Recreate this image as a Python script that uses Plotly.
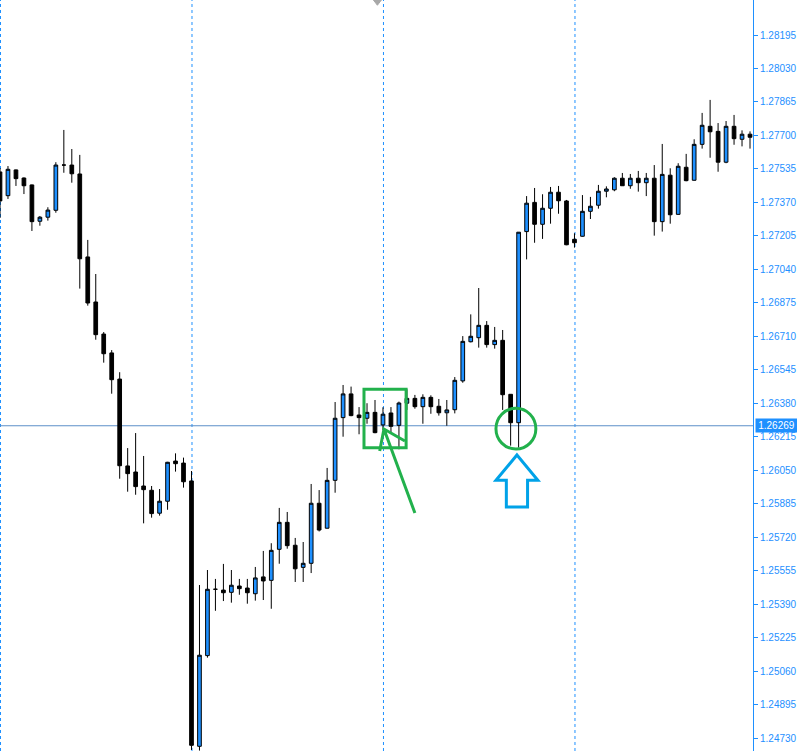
import plotly.graph_objects as go

# ---- data (H1 bars) ----
bar_index = list(range(95))
open_ = [1.27520, 1.27403, 1.27530, 1.27490, 1.27456, 1.27277, 1.27297, 1.27331, 1.27554, 1.27554,
         1.27510, 1.27101, 1.26879, 1.26721, 1.26628, 1.26499, 1.26071, 1.26041, 1.25972, 1.25951,
         1.25838, 1.25897, 1.26095, 1.26085, 1.25997, 1.24689, 1.25136, 1.25463, 1.25459, 1.25448,
         1.25479, 1.25469, 1.25441, 1.25524, 1.25507, 1.25660, 1.25793, 1.25680, 1.25571, 1.25591,
         1.25887, 1.25764, 1.26000, 1.26309, 1.26426, 1.26322, 1.26306, 1.26335, 1.26273, 1.26332,
         1.26271, 1.26380, 1.26404, 1.26363, 1.26409, 1.26365, 1.26333, 1.26348, 1.26490, 1.26683,
         1.26703, 1.26764, 1.26669, 1.26690, 1.26424, 1.26284, 1.27226, 1.27370, 1.27262, 1.27341,
         1.27420, 1.27377, 1.27188, 1.27203, 1.27326, 1.27356, 1.27425, 1.27432, 1.27489, 1.27452,
         1.27489, 1.27467, 1.27489, 1.27275, 1.27504, 1.27311, 1.27543, 1.27479, 1.27656, 1.27745,
         1.27720, 1.27568, 1.27745, 1.27681, 1.27706]
high = [1.27539, 1.27549, 1.27532, 1.27493, 1.27458, 1.27303, 1.27346, 1.27568, 1.27727, 1.27633,
        1.27604, 1.27185, 1.27017, 1.26731, 1.26642, 1.26533, 1.26159, 1.26233, 1.26120, 1.25972,
        1.25957, 1.26091, 1.26133, 1.26112, 1.26046, 1.25484, 1.25558, 1.25514, 1.25588, 1.25558,
        1.25514, 1.25514, 1.25573, 1.25652, 1.25690, 1.25864, 1.25844, 1.25716, 1.25696, 1.25982,
        1.25952, 1.26061, 1.26386, 1.26470, 1.26462, 1.26361, 1.26380, 1.26396, 1.26360, 1.26361,
        1.26388, 1.26449, 1.26421, 1.26424, 1.26419, 1.26401, 1.26396, 1.26509, 1.26711, 1.26818,
        1.26948, 1.26785, 1.26756, 1.26741, 1.26425, 1.27224, 1.27401, 1.27441, 1.27410, 1.27446,
        1.27451, 1.27382, 1.27218, 1.27406, 1.27397, 1.27456, 1.27449, 1.27494, 1.27515, 1.27510,
        1.27525, 1.27515, 1.27554, 1.27658, 1.27538, 1.27563, 1.27609, 1.27681, 1.27811, 1.27875,
        1.27761, 1.27771, 1.27801, 1.27725, 1.27720]
low = [1.27293, 1.27387, 1.27451, 1.27411, 1.27229, 1.27255, 1.27280, 1.27319, 1.27516, 1.27467,
       1.26945, 1.26861, 1.26693, 1.26580, 1.26427, 1.26008, 1.25944, 1.25929, 1.25788, 1.25816,
       1.25826, 1.25855, 1.26043, 1.25964, 1.24671, 1.24668, 1.25126, 1.25357, 1.25405, 1.25397,
       1.25436, 1.25392, 1.25407, 1.25410, 1.25367, 1.25589, 1.25663, 1.25499, 1.25499, 1.25543,
       1.25748, 1.25763, 1.25939, 1.26215, 1.26316, 1.26227, 1.26279, 1.26232, 1.26248, 1.26233,
       1.26153, 1.26347, 1.26353, 1.26279, 1.26328, 1.26319, 1.26269, 1.26330, 1.26481, 1.26680,
       1.26654, 1.26654, 1.26649, 1.26347, 1.26171, 1.26161, 1.27089, 1.27171, 1.27190, 1.27265,
       1.27314, 1.27159, 1.27147, 1.27201, 1.27288, 1.27339, 1.27395, 1.27425, 1.27451, 1.27437,
       1.27423, 1.27401, 1.27206, 1.27226, 1.27265, 1.27309, 1.27474, 1.27477, 1.27635, 1.27590,
       1.27521, 1.27563, 1.27654, 1.27646, 1.27635]
close = [1.27377, 1.27533, 1.27487, 1.27452, 1.27275, 1.27297, 1.27332, 1.27554, 1.27554, 1.27511,
         1.27092, 1.26874, 1.26718, 1.26624, 1.26496, 1.26072, 1.26033, 1.25969, 1.25954, 1.25836,
         1.25897, 1.26089, 1.26082, 1.25993, 1.24694, 1.25138, 1.25463, 1.25463, 1.25446, 1.25483,
         1.25466, 1.25446, 1.25519, 1.25504, 1.25655, 1.25793, 1.25678, 1.25564, 1.25591, 1.25887,
         1.25755, 1.26000, 1.26306, 1.26426, 1.26319, 1.26309, 1.26335, 1.26235, 1.26326, 1.26266,
         1.26381, 1.26404, 1.26363, 1.26409, 1.26363, 1.26333, 1.26347, 1.26493, 1.26685, 1.26710,
         1.26764, 1.26669, 1.26690, 1.26422, 1.26284, 1.27223, 1.27366, 1.27262, 1.27341, 1.27420,
         1.27378, 1.27161, 1.27171, 1.27326, 1.27351, 1.27425, 1.27436, 1.27489, 1.27452, 1.27489,
         1.27467, 1.27489, 1.27275, 1.27508, 1.27309, 1.27548, 1.27477, 1.27656, 1.27750, 1.27718,
         1.27568, 1.27745, 1.27684, 1.27706, 1.27691]

price_ticks = [1.24730, 1.24895, 1.25060, 1.25225, 1.25390, 1.25555, 1.25720, 1.25885,
               1.26050, 1.26215, 1.26380, 1.26545, 1.26710, 1.26875, 1.27040, 1.27205,
               1.27370, 1.27535, 1.27700, 1.27865, 1.28030, 1.28195]
price_tick_labels = ["%.5f" % v for v in price_ticks]
day_separators = [0, 24, 48, 72]
current_price = 1.26269

BLUE = "#1E90FF"
GREEN = "#22B14C"
LIGHTBLUE = "#00A2E8"

fig = go.Figure()
fig.add_trace(go.Candlestick(
    x=bar_index, open=open_, high=high, low=low, close=close,
    increasing=dict(fillcolor=BLUE, line=dict(color="black", width=1)),
    decreasing=dict(fillcolor="black", line=dict(color="black", width=1)),
    whiskerwidth=0, hoverinfo="skip", showlegend=False,
))

shapes = []
for d in day_separators:
    xs = d + 0.0625  # half-pixel offset keeps the dashed separator crisp
    shapes.append(dict(type="line", xref="x", yref="paper", x0=xs, x1=xs, y0=0, y1=1,
                       line=dict(color=BLUE, width=1, dash="3px,3px"), layer="below"))
# current price line
shapes.append(dict(type="line", xref="paper", yref="y", x0=0, x1=1, y0=current_price, y1=current_price,
                   line=dict(color="#5C8FC8", width=1), layer="below"))
# green rectangle
shapes.append(dict(type="rect", xref="x", yref="y", x0=45.62, x1=50.9, y0=1.26161, y1=1.26449,
                   line=dict(color=GREEN, width=3)))
# green arrow
shapes.append(dict(type="path", xref="x", yref="y",
                   path="M 52.0,1.25839 L 48.12,1.26253 M 47.59,1.26145 L 48.12,1.26253 L 50.75,1.26194",
                   line=dict(color=GREEN, width=3)))
# green circle
shapes.append(dict(type="circle", xref="x", yref="y", x0=62.16, x1=67.16, y0=1.26154, y1=1.26355,
                   line=dict(color=GREEN, width=3)))
# blue hollow up-arrow
shapes.append(dict(type="path", xref="x", yref="y",
                   path=("M 64.79,1.26125 L 67.41,1.26000 L 66.12,1.26000 L 66.12,1.25869 "
                         "L 63.46,1.25869 L 63.46,1.26000 L 62.16,1.26000 Z"),
                   line=dict(color=LIGHTBLUE, width=3)))
# small grey shift marker at top
shapes.append(dict(type="path", xref="x", yref="paper",
                   path="M 46.8,1.0 L 47.8,1.0 L 47.3,0.993 Z",
                   fillcolor="#A8A8A8", line=dict(color="#A8A8A8", width=1)))

fig.update_layout(
    width=797, height=751,
    margin=dict(l=0, r=42, t=0, b=0, pad=0),
    paper_bgcolor="white", plot_bgcolor="white",
    boxgap=0.34,
    shapes=shapes,
    xaxis=dict(range=[0, 94.375], showgrid=False, zeroline=False, showticklabels=False,
               showline=False, ticks="", rangeslider=dict(visible=False), fixedrange=True),
    yaxis=dict(range=[1.246659, 1.283675], side="right", showgrid=False, zeroline=False,
               showline=True, linecolor=BLUE, linewidth=1,
               ticks="outside", ticklen=4, tickcolor=BLUE, tickwidth=1,
               tickvals=price_ticks, ticktext=price_tick_labels,
               tickfont=dict(family="Liberation Sans", size=10, color=BLUE)),
    annotations=[dict(xref="paper", yref="y", x=1, y=current_price, xanchor="left", yanchor="middle",
                      xshift=2, text="%.5f" % current_price, showarrow=False,
                      font=dict(family="Liberation Sans", size=10, color="white"),
                      bgcolor=BLUE, borderpad=1, width=39, align="center")],
)

fig.write_html("out.html", config={"displayModeBar": False},
               post_script="document.body.style.margin='0';document.body.style.padding='0';")
